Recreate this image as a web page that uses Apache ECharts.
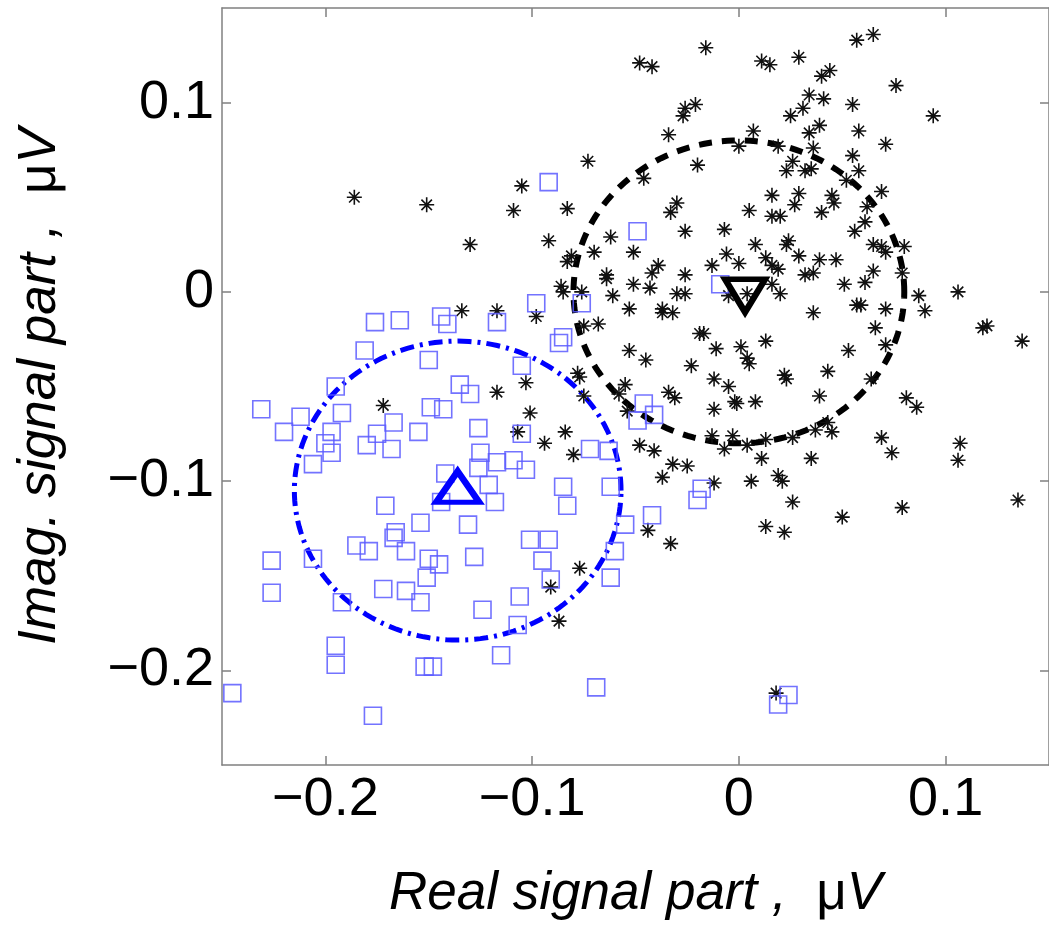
<!DOCTYPE html>
<html>
<head>
<meta charset="utf-8">
<title>Signal scatter</title>
<script src="https://cdn.jsdelivr.net/npm/echarts@6/dist/echarts.min.js"></script>
<style>
  html, body { margin: 0; padding: 0; background: #fff; }
  #chart { width: 1049px; height: 933px; }
</style>
</head>
<body>
<div id="chart"></div>
<script>
// tick positions (same for both axes)
const xTicks = [-0.2, -0.1, 0, 0.1]
const yTicks = [-0.2, -0.1, 0, 0.1]

// group 1: black asterisks [real, imag]
const starPoints = [
  [-0.186, 0.050], [-0.151, 0.046], [-0.130, 0.025], [-0.105, 0.056], [-0.109, 0.043],
  [-0.073, 0.069], [-0.083, 0.044], [-0.092, 0.027], [-0.062, 0.029], [-0.081, 0.019],
  [-0.083, 0.016], [-0.070, 0.021], [-0.064, 0.009], [-0.064, 0.007], [-0.086, 0.003],
  [-0.085, 0.000], [-0.076, 0.000], [-0.061, -0.002], [-0.134, -0.010], [-0.117, -0.010],
  [-0.098, -0.013], [-0.075, -0.018], [-0.068, -0.017], [-0.078, -0.043], [-0.077, -0.045],
  [-0.075, -0.055], [-0.103, -0.048], [-0.117, -0.053], [-0.172, -0.060], [-0.101, -0.064],
  [-0.107, -0.074], [-0.084, -0.074], [-0.094, -0.080], [-0.080, -0.086], [-0.077, -0.146],
  [-0.091, -0.156], [-0.087, -0.174], [-0.033, -0.133], [0.018, -0.212],
  [-0.051, 0.004], [-0.043, 0.002], [-0.030, -0.001], [-0.026, -0.001], [0.020, -0.001],
  [0.016, 0.004], [0.051, 0.004], [0.061, 0.005], [0.087, -0.002], [0.106, 0.000],
  [-0.053, -0.009], [-0.037, -0.009], [-0.037, -0.011], [-0.032, -0.011], [0.036, -0.011],
  [0.057, -0.007], [0.059, -0.007], [0.071, -0.009], [0.090, -0.010], [0.066, -0.019],
  [0.120, -0.018], [0.118, -0.019], [0.137, -0.026], [-0.019, -0.022], [-0.017, -0.022],
  [-0.011, -0.030], [0.001, -0.029], [0.013, -0.026], [0.004, -0.035], [0.005, -0.038],
  [-0.053, -0.031], [-0.045, -0.036], [-0.023, -0.039], [0.053, -0.031], [0.071, -0.028],
  [0.043, -0.042], [0.022, -0.044], [0.023, -0.046], [-0.012, -0.046], [-0.005, -0.050],
  [-0.055, -0.049], [-0.058, -0.054], [-0.034, -0.053], [-0.031, -0.056], [0.064, -0.046],
  [-0.002, -0.058], [-0.001, -0.059], [0.008, -0.058], [-0.012, -0.062], [0.039, -0.055],
  [-0.054, -0.063], [0.081, -0.056], [0.086, -0.061], [-0.013, -0.076], [-0.003, -0.076],
  [-0.007, -0.083], [0.004, -0.081], [0.013, -0.078], [0.026, -0.077], [0.037, -0.073],
  [0.043, -0.069], [0.045, -0.074], [0.011, -0.088], [-0.048, -0.081], [-0.041, -0.084],
  [-0.032, -0.091], [-0.025, -0.092], [-0.037, -0.098], [-0.012, -0.101], [0.006, -0.100],
  [0.019, -0.097], [0.021, -0.100], [0.035, -0.088], [0.069, -0.077], [0.074, -0.085],
  [0.107, -0.080], [0.106, -0.089], [0.026, -0.111], [0.079, -0.114], [0.135, -0.110],
  [0.050, -0.119], [0.013, -0.124], [0.022, -0.127], [-0.044, -0.126],
  [0.065, 0.136], [0.057, 0.133], [-0.016, 0.129], [0.029, 0.124], [-0.048, 0.121],
  [-0.042, 0.119], [0.011, 0.122], [0.015, 0.120], [0.044, 0.117], [0.040, 0.114],
  [0.076, 0.109], [0.034, 0.104], [0.041, 0.102], [0.055, 0.099], [0.094, 0.093],
  [-0.026, 0.097], [-0.021, 0.099], [-0.027, 0.093], [0.031, 0.097], [0.025, 0.093],
  [0.039, 0.088], [0.034, 0.084], [0.058, 0.085], [0.007, 0.085], [-0.034, 0.083],
  [0.071, 0.078], [0.000, 0.077], [0.019, 0.077], [0.036, 0.076], [-0.020, 0.067],
  [-0.046, 0.060], [0.055, 0.072], [0.026, 0.069], [0.023, 0.064], [0.032, 0.064],
  [0.035, 0.065], [0.058, 0.064], [0.052, 0.059], [0.069, 0.053], [0.016, 0.051],
  [0.029, 0.052], [0.027, 0.046], [0.045, 0.051], [0.046, 0.047], [-0.030, 0.047],
  [-0.033, 0.042], [0.062, 0.045], [0.005, 0.043], [0.016, 0.040], [0.020, 0.040],
  [0.040, 0.042], [0.061, 0.037], [0.056, 0.032], [-0.026, 0.032], [-0.007, 0.033],
  [-0.051, 0.021], [0.008, 0.025], [0.024, 0.027], [0.023, 0.025], [0.065, 0.025],
  [0.069, 0.024], [0.071, 0.021], [0.080, 0.024], [-0.006, 0.020], [0.000, 0.015],
  [-0.013, 0.014], [-0.039, 0.014], [-0.042, 0.010], [0.013, 0.018], [0.016, 0.014],
  [0.019, 0.012], [0.029, 0.019], [0.039, 0.017], [0.047, 0.017], [0.065, 0.011],
  [-0.026, 0.009], [0.032, 0.009], [0.036, 0.010], [0.079, 0.010], [-0.005, -0.002],
  [0.004, -0.001]
]

// group 2: blue squares [real, imag]
const squarePoints = [
  [-0.092, 0.058], [-0.098, -0.006], [-0.076, -0.006], [-0.049, 0.032], [-0.009, 0.004],
  [-0.176, -0.016], [-0.164, -0.015], [-0.144, -0.013], [-0.141, -0.017], [-0.117, -0.016],
  [-0.085, -0.024], [-0.087, -0.027], [-0.181, -0.031], [-0.150, -0.036], [-0.105, -0.039],
  [-0.195, -0.050], [-0.135, -0.049], [-0.130, -0.054], [-0.231, -0.062], [-0.212, -0.066],
  [-0.192, -0.064], [-0.149, -0.061], [-0.143, -0.062], [-0.220, -0.074], [-0.197, -0.074],
  [-0.200, -0.080], [-0.167, -0.069], [-0.175, -0.075], [-0.155, -0.074], [-0.126, -0.072],
  [-0.105, -0.075], [-0.180, -0.081], [-0.168, -0.083], [-0.197, -0.085], [-0.206, -0.091],
  [-0.125, -0.085], [-0.117, -0.090], [-0.109, -0.089], [-0.103, -0.094], [-0.126, -0.093],
  [-0.072, -0.083], [-0.063, -0.084], [-0.142, -0.096], [-0.121, -0.102], [-0.118, -0.111],
  [-0.085, -0.103], [-0.062, -0.103], [-0.083, -0.113], [-0.144, -0.111], [-0.171, -0.113],
  [-0.154, -0.122], [-0.131, -0.123], [-0.166, -0.127], [-0.167, -0.130], [-0.185, -0.134],
  [-0.179, -0.137], [-0.161, -0.137], [-0.101, -0.131], [-0.092, -0.131], [-0.226, -0.142],
  [-0.206, -0.141], [-0.150, -0.141], [-0.128, -0.140], [-0.095, -0.142], [-0.145, -0.144],
  [-0.151, -0.151], [-0.091, -0.152], [-0.062, -0.151], [-0.226, -0.159], [-0.172, -0.157],
  [-0.161, -0.158], [-0.154, -0.164], [-0.192, -0.164], [-0.124, -0.168], [-0.106, -0.161],
  [-0.107, -0.176], [-0.195, -0.187], [-0.195, -0.197], [-0.152, -0.198], [-0.148, -0.198],
  [-0.115, -0.192], [-0.245, -0.212], [-0.177, -0.224], [-0.069, -0.209], [0.024, -0.213],
  [0.019, -0.218], [-0.060, -0.137], [-0.046, -0.059], [-0.041, -0.065], [-0.049, -0.068],
  [-0.018, -0.104], [-0.020, -0.110], [-0.042, -0.118], [-0.055, -0.123]
]

// group means and spread circles [real, imag, radius]
const starMean = [[0.003, -0.002]]
const squareMean = [[-0.136, -0.103]]
const starCircle = [[0.0, 0.0, 0.080]]
const squareCircle = [[-0.136, -0.105, 0.079]]

const asterisk = 'path://M0,5L10,5M5,0L5,10M1.5,1.5L8.5,8.5M1.5,8.5L8.5,1.5'
const fontFamily = '"Liberation Sans", Arial, Helvetica, sans-serif'
const axisGray = '#808080'

function fmt(v) {
  return v < 0 ? '\u2212' + Math.abs(v) : String(v)
}

function circleItem(color, width, dash) {
  return function (params, api) {
    const cx = api.value(0)
    const cy = api.value(1)
    const r = api.value(2)
    const pts = []
    for (let a = 0; a < 360; a += 2) {
      const t = a * Math.PI / 180
      pts.push(api.coord([cx + r * Math.cos(t), cy + r * Math.sin(t)]))
    }
    return {
      type: 'polygon',
      shape: { points: pts },
      style: { fill: null, stroke: color, lineWidth: width, lineDash: dash }
    }
  }
}

function baseAxis(pos, ticks, showLabel) {
  return {
    type: 'value',
    position: pos,
    min: -0.25,
    max: 0.15,
    splitLine: { show: false },
    axisLine: { show: true, onZero: false, lineStyle: { color: axisGray, width: 1.5 } },
    axisTick: { show: true, inside: true, length: 9, customValues: ticks, lineStyle: { color: axisGray, width: 1.5 } },
    axisLabel: {
      show: showLabel,
      customValues: ticks,
      formatter: fmt,
      color: '#000',
      fontSize: 54,
      fontFamily: fontFamily
    }
  }
}

// italic title, upright mu
const titleStyle = {
  fontSize: 53,
  color: '#000',
  fontFamily: fontFamily,
  rich: {
    i: { fontSize: 53, fontStyle: 'italic', color: '#000', fontFamily: fontFamily },
    u: { fontSize: 53, fontStyle: 'normal', color: '#000', fontFamily: fontFamily }
  }
}

const chart = echarts.init(document.getElementById('chart'))

const xBottom = baseAxis('bottom', xTicks, true)
xBottom.axisLabel.margin = 8
xBottom.name = '{i|Real signal part ,  }{u|\u03bc}{i|V}'
xBottom.nameLocation = 'middle'
xBottom.nameGap = 103
xBottom.nameTextStyle = titleStyle

const yLeft = baseAxis('left', yTicks, true)
yLeft.axisLabel.margin = 8
yLeft.name = '{i|Imag. signal part ,  }{u|\u03bc}{i|V}'
yLeft.nameLocation = 'middle'
yLeft.nameGap = 155
yLeft.nameTextStyle = titleStyle

chart.setOption({
  animation: false,
  backgroundColor: '#fff',
  grid: { left: 222, top: 8, width: 833, height: 757 },
  xAxis: [xBottom, baseAxis('top', xTicks, false)],
  yAxis: [yLeft, baseAxis('right', yTicks, false)],
  series: [
    {
      type: 'scatter',
      data: starPoints,
      symbol: asterisk,
      symbolSize: 15,
      itemStyle: { color: 'transparent', borderColor: '#111', borderWidth: 1.6, opacity: 1 }
    },
    {
      type: 'scatter',
      data: squarePoints,
      symbol: 'rect',
      symbolSize: 17,
      itemStyle: { color: 'transparent', borderColor: '#5a5aff', borderWidth: 1.6, opacity: 0.85 }
    },
    {
      type: 'custom',
      data: starCircle,
      encode: { x: 0, y: 1 },
      renderItem: circleItem('#000', 6, [13, 10])
    },
    {
      type: 'custom',
      data: squareCircle,
      encode: { x: 0, y: 1 },
      renderItem: circleItem('#0000ff', 5, [14, 6, 3, 6])
    },
    {
      type: 'scatter',
      data: squareMean,
      symbol: 'triangle',
      symbolSize: [43, 31],
      itemStyle: { color: 'transparent', borderColor: '#0000ff', borderWidth: 6, opacity: 1 }
    },
    {
      type: 'scatter',
      data: starMean,
      symbol: 'triangle',
      symbolRotate: 180,
      symbolSize: [40, 33],
      itemStyle: { color: 'transparent', borderColor: '#000', borderWidth: 6, opacity: 1 }
    }
  ]
})
</script>
</body>
</html>
